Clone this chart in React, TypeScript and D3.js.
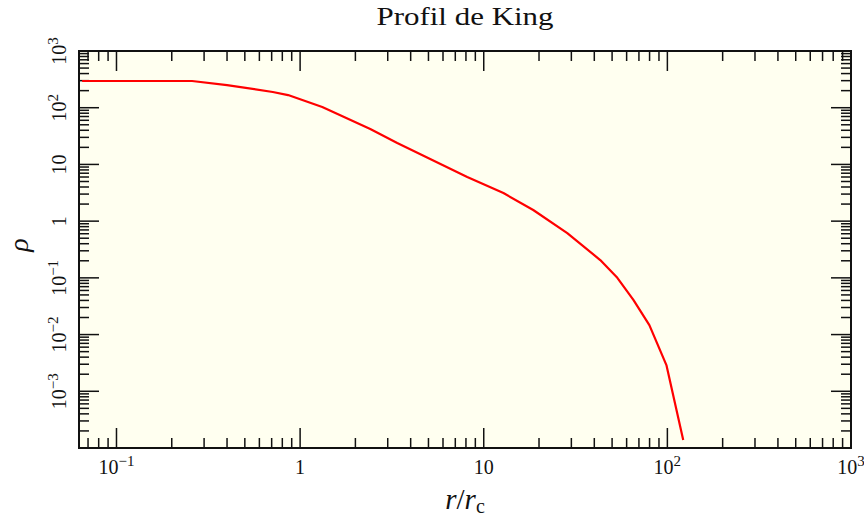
import React from "react";
import * as d3 from "d3";

const RADIUS = [0.065, 0.258, 0.40, 0.71, 0.86, 1.32, 2.41, 3.38, 8.13, 12.8, 18.6, 28.5, 43.1, 53.4, 65.3, 79.8, 98.8, 122];
const DENSITY = [296, 296, 251, 189, 167, 103, 42, 23.8, 6.0, 3.13, 1.57, 0.617, 0.206, 0.1, 0.041, 0.0147, 0.0029, 1.38e-4];
const X_TICKS = [0.1, 1, 10, 100, 1000];
const Y_TICKS = [1000, 100, 10, 1, 0.1, 0.01, 0.001];
const TITLE = "Profil de King";

const W = 864, H = 521;
const M = { left: 79, right: 851, top: 51, bottom: 448 };
const FONT = "Palatino, 'Palatino Linotype', 'URW Palladio L', P052, 'Liberation Serif', serif";

function expOf(v: number) {
  return Math.round(Math.log10(v));
}

function TickLabel({ v, x, y, rotate }: { v: number; x: number; y: number; rotate?: boolean }) {
  const e = expOf(v);
  const transform = rotate ? `rotate(-90 ${x} ${y})` : undefined;
  if (e === 0 || e === 1) {
    return (
      <text x={x} y={y} textAnchor="middle" fontSize={20} fontFamily={FONT} fill="#111" transform={transform}>
        {e === 0 ? "1" : "10"}
      </text>
    );
  }
  const sup = e < 0 ? `\u2212${-e}` : `${e}`;
  return (
    <text x={x} y={y} textAnchor="middle" fontSize={20} fontFamily={FONT} fill="#111" transform={transform}>
      10
      <tspan dy={-8} fontSize={15}>{sup}</tspan>
    </text>
  );
}

export default function App() {
  const x = d3.scaleLog().domain([0.0625, 1000]).range([M.left, M.right]);
  const y = d3.scaleLog().domain([1e-4, 1000]).range([M.bottom, M.top]);

  const data = RADIUS.map((r, i) => [r, DENSITY[i]] as [number, number]);
  const line = d3.line<[number, number]>().x((d) => x(d[0])).y((d) => y(d[1]));

  const xMinor: number[] = [];
  for (let k = -2; k <= 2; k++) for (let m = 2; m <= 9; m++) {
    const v = m * Math.pow(10, k);
    if (v > 0.0625 && v < 1000) xMinor.push(v);
  }
  const yMinor: number[] = [];
  for (let k = -4; k <= 2; k++) for (let m = 2; m <= 9; m++) {
    const v = m * Math.pow(10, k);
    if (v > 1e-4 && v < 1000) yMinor.push(v);
  }
  const yMajorAll = [1e-4, 1e-3, 1e-2, 0.1, 1, 10, 100, 1000];

  const MAJ = 20, MIN = 10;

  return (
    <svg width={W} height={H} style={{ position: "absolute", left: 0, top: 0 }}>
      <rect x={0} y={0} width={W} height={H} fill="#ffffff" />
      <rect x={M.left} y={M.top} width={M.right - M.left} height={M.bottom - M.top} fill="#fffff0" />

      <g stroke="#111" strokeWidth={1.5}>
        {X_TICKS.map((v) => (
          <g key={"xM" + v}>
            <line x1={x(v)} x2={x(v)} y1={M.bottom} y2={M.bottom - MAJ} />
            <line x1={x(v)} x2={x(v)} y1={M.top} y2={M.top + MAJ} />
          </g>
        ))}
        {xMinor.map((v) => (
          <g key={"xm" + v}>
            <line x1={x(v)} x2={x(v)} y1={M.bottom} y2={M.bottom - MIN} />
            <line x1={x(v)} x2={x(v)} y1={M.top} y2={M.top + MIN} />
          </g>
        ))}
        {yMajorAll.map((v) => (
          <g key={"yM" + v}>
            <line x1={M.left} x2={M.left + MAJ} y1={y(v)} y2={y(v)} />
            <line x1={M.right} x2={M.right - MAJ} y1={y(v)} y2={y(v)} />
          </g>
        ))}
        {yMinor.map((v) => (
          <g key={"ym" + v}>
            <line x1={M.left} x2={M.left + MIN} y1={y(v)} y2={y(v)} />
            <line x1={M.right} x2={M.right - MIN} y1={y(v)} y2={y(v)} />
          </g>
        ))}
      </g>

      <path d={line(data) || ""} fill="none" stroke="#ff0000" strokeWidth={2.2} strokeLinejoin="round" />

      <rect x={M.left} y={M.top} width={M.right - M.left} height={M.bottom - M.top} fill="none" stroke="#111" strokeWidth={2} />

      {X_TICKS.map((v) => (
        <TickLabel key={"xl" + v} v={v} x={x(v)} y={474} />
      ))}
      {Y_TICKS.map((v) => (
        <TickLabel key={"yl" + v} v={v} x={66} y={y(v)} rotate />
      ))}

      <text x={(M.left + M.right) / 2} y={25} textAnchor="middle" fontSize={26} fontFamily={FONT} fill="#111"
        textLength={177} lengthAdjust="spacingAndGlyphs">
        {TITLE}
      </text>

      <text x={(M.left + M.right) / 2} y={509} textAnchor="middle" fontSize={29} fontFamily={FONT} fill="#111">
        <tspan fontStyle="italic">r</tspan>
        <tspan>/</tspan>
        <tspan fontStyle="italic">r</tspan>
        <tspan fontSize={20} dy={4}>c</tspan>
      </text>

      <text x={28} y={245} textAnchor="middle" fontSize={28} fontFamily={FONT} fontStyle="italic" fill="#111" transform="rotate(-90 28 245)">
        ρ
      </text>
    </svg>
  );
}
